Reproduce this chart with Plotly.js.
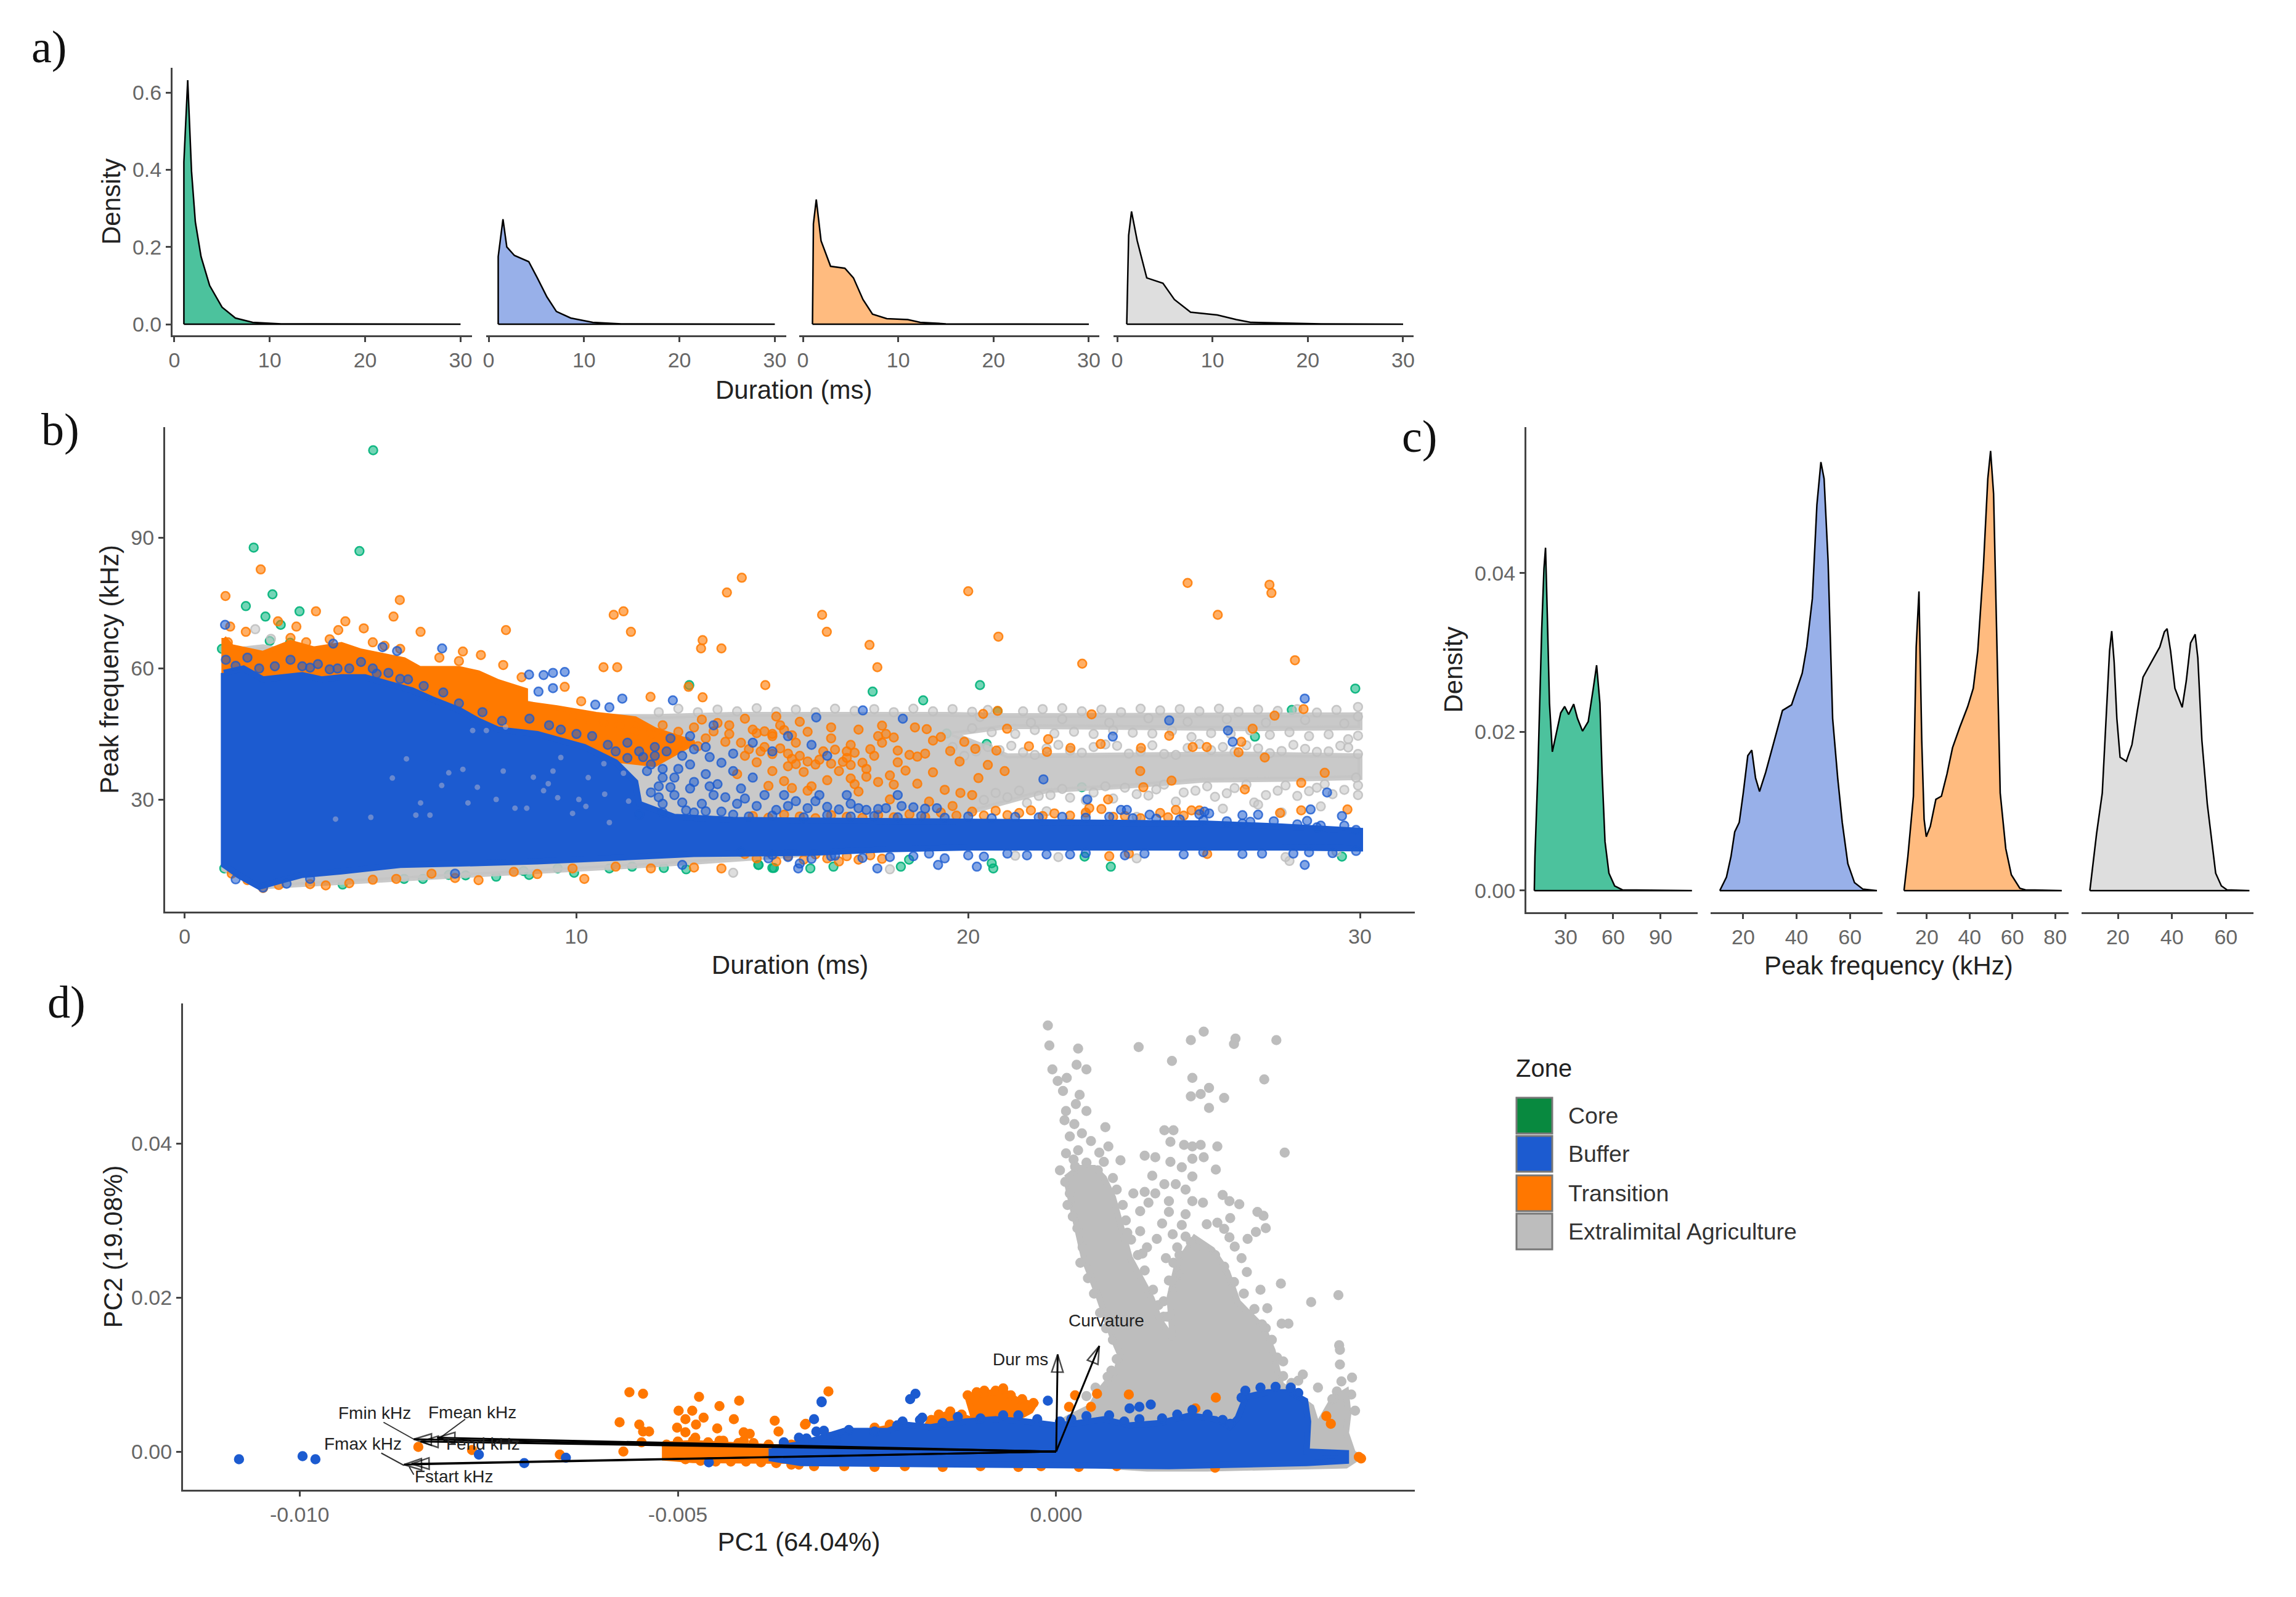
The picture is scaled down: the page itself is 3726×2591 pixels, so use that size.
<!DOCTYPE html>
<html><head><meta charset="utf-8">
<script src="https://cdn.plot.ly/plotly-3.0.1.min.js"></script>
<style>html,body{margin:0;padding:0;background:#fff}#chart{width:3726px;height:2591px}</style>
</head><body><div id="chart"></div>
<script>
const zones=["Core","Buffer","Transition","Extralimital Agriculture"];
const swatchColors=["#08893f","#1c5bd0","#ff7700","#bdbdbd"];
const densityFill=["rgba(0,168,115,0.7)","rgba(40,90,210,0.48)","rgba(255,119,0,0.5)","rgba(190,190,190,0.5)"];

// a) duration density (ms, density)
const durCoreX=[1,1,1.4,1.8,2.2,2.8,3.7,5,6.4,8.2,11.2,30];
const durCoreY=[0,.42,.632,.396,.265,.175,.1,.044,.016,.005,.001,0];
const durBufferX=[1,1,1.5,1.9,2.7,4.2,5.1,6.1,7.1,8.6,10.9,13.9,30];
const durBufferY=[0,.175,.272,.2,.178,.162,.12,.071,.033,.016,.005,.001,0];
const durTransX=[1,1.1,1.4,1.9,2.9,4.4,5.3,6.3,7.3,8.8,11,12.3,15,30];
const durTransY=[0,.26,.323,.216,.15,.145,.12,.064,.026,.0145,.012,.005,.001,0];
const durAgriX=[1,1.2,1.5,2.1,3.1,4.8,6,7.7,10.5,12.5,14,21.4,30];
const durAgriY=[0,.23,.292,.216,.12,.106,.064,.031,.024,.012,.005,.001,0];

// c) peak frequency density (kHz, density)
const pfCoreX=[10.1,10.5,12.3,14.8,16.2,17.2,18.3,19.7,21.5,24,26.8,29.3,31.8,35,37.4,40.6,44.2,47.4,49.5,51.6,53,54.8,57.3,60.9,65.8,109.8];
const pfCoreY=[0,.0043,.0147,.033,.0406,.0432,.0349,.0236,.0175,.0199,.0224,.0232,.0222,.0235,.0217,.0201,.0213,.0255,.0284,.0236,.0147,.0062,.0022,.0006,.0001,0];
const pfBufferX=[11.2,13.7,15.4,16.8,18.5,20,21.7,23.2,24.6,26.1,28.4,31.2,34.7,38.1,40.2,42.1,43.8,45.9,47.6,49.1,50.3,51.8,53.5,55.4,57.1,59.2,61.7,64.8,70.1];
const pfBufferY=[0,.0017,.0043,.0074,.0086,.0123,.017,.0177,.0142,.0125,.0149,.0184,.0227,.0234,.0255,.0274,.0307,.0368,.0486,.054,.0519,.0415,.0217,.0142,.0086,.0034,.001,.0002,0];
const pfTransX=[9.3,11.1,13.7,15,16.3,17.6,18.7,19.7,21.6,24.2,26.8,29.4,32,35.4,39.1,41.7,43.8,46.4,48.5,49.8,51.2,52.5,54.3,56.9,59.5,63.5,66.1,83.1];
const pfTransY=[0,.0043,.0119,.0307,.0377,.0189,.009,.0068,.0081,.0115,.0119,.0147,.018,.0206,.0232,.0255,.0302,.0406,.0519,.0554,.05,.0349,.0123,.0053,.002,.0003,.0001,0];
const pfAgriX=[9.6,12.1,14.2,15.9,16.9,17.7,18.6,19.6,20.8,23.1,25.2,27.2,29.3,32.4,35.5,37.2,38.2,39.5,41.1,43.8,45.3,46.9,48.6,49.6,51.1,53.1,56.2,58.3,60.4,68.7];
const pfAgriY=[0,.0072,.0123,.0236,.0302,.0327,.0288,.0217,.0168,.0163,.0184,.0227,.0269,.0288,.0307,.0326,.033,.0302,.0255,.0231,.0264,.0312,.0323,.0293,.0189,.0109,.0022,.0006,.0001,0];

// b) dense clouds read as outlines (duration, kHz)
const bGrayMass=[[1,64],[2,65],[5,60],[8,54],[10,49],[12,49],[14,49.5],[17,49.5],[19.5,49.5],[21,49.2],[25,49.3],[28,49.2],[30,49.4],[30,46.4],[27,46.2],[24,46.5],[21,46.7],[19.6,45],[21,40],[24,40.2],[27,40.4],[30,40],[30,35],[28,34.6],[26,34.4],[24,33],[22,32],[20,27],[20,20],[12,15],[4,11],[2,10],[1,14]];
const bOrangeMass=[[1,67],[1.2,65],[2,63.5],[2.7,66],[3.3,64.5],[4,65.5],[4.5,64],[5,63],[5.6,62],[6,60],[7,60],[7.5,59],[8,57],[8.7,55],[8.7,52],[9.5,51],[10.5,49.5],[11.5,48.5],[12,46],[12.5,44.5],[13,43],[12,38],[10,40],[8,44],[6,52],[4,55],[1,57]];
const bBlueMass=[[1,59],[1.5,60],[2,57.5],[2.5,58],[3,58.5],[3.5,57.5],[4,58],[4.6,58],[5.2,56.5],[5.8,55],[6.3,53],[7,50.5],[7.5,48],[8,46],[9,45],[9.6,43.5],[10.2,42],[11,38.5],[11.5,34],[11.6,29],[12.5,26],[14,25.3],[18,25],[22,25],[26,24.5],[28,23.8],[30,22.8],[30,18.8],[28,19],[24,19],[20,19],[18,18.6],[16,17.8],[13,17.5],[12,17],[10,16],[9,15.8],[7,15.3],[5.5,15],[4,13.5],[3,12.7],[2.5,11.5],[1.9,10],[1.4,12.5],[1,15]];

// b) individually visible points (duration, kHz)
const bCorePts=[[4.81,110],[1.76,87.7],[4.46,86.9],[2.24,77],[1.56,74.3],[2.06,71.9],[2.93,73.1],[2.45,70],[2.17,66.3],[2.69,65.9],[12.88,56.2],[17.56,54.7],[18.85,52.7],[20.3,56.2],[19.45,45.1],[29.88,55.4],[27.32,44.4],[20.75,50.2],[28.26,50.5],[22.9,32.8],[20.47,42.7],[23.64,14.6],[20.64,14.2],[20.6,15.4],[29.54,16.9],[22.97,16.9],[18.49,16.2],[18.28,14.6],[16.56,14.6],[15.97,14.2],[15.04,14.3],[14.65,15],[6.08,11.8],[6.74,12.7],[7.95,12.3],[8.65,13.6],[8.79,12.7],[9.52,14.2],[9.94,13.2],[10.84,14.2],[11.42,14.6],[12.23,14.3],[12.8,14],[14.64,15],[15,14.3],[5.6,11.8],[7.17,12.6],[4.03,10.5],[0.95,64.5],[1.01,14.2]];
const bGrayPts=[[12.1,50],[12.6,50.8],[13.1,50],[13.6,50.6],[14.1,50.2],[14.6,50.9],[15.1,50.1],[15.6,50.6],[16.1,50],[16.6,50.8],[17.1,50.3],[17.6,50.7],[18.1,50],[18.6,50.8],[19.1,50.2],[19.6,50.7],[20.1,50.1],[20.5,50.5],[21.4,50.2],[21.9,50.7],[22.4,50.9],[22.9,50.2],[23.4,50.6],[23.9,50],[24.4,50.8],[24.9,50.4],[25.4,50.7],[25.9,50.2],[26.4,50.8],[26.9,50.1],[27.4,50.6],[27.9,50.3],[28.4,50.7],[28.9,49.9],[29.4,50.5],[29.95,51.2],
[20.1,46.3],[20.6,45.4],[21.2,45],[21.7,45.9],[22.2,45.1],[22.7,45.5],[23.2,45],[23.7,45.8],[24.2,45.3],[24.7,45.1],[25.2,45.7],[25.7,44.3],[26.2,45.2],[26.7,45],[27.2,45.8],[27.7,44.8],[28.2,45.4],[28.7,44.5],[29.2,44.9],[29.7,43.8],[29.95,44.6],
[19.6,42],[20.2,41],[20.8,41.3],[21.4,40.8],[22,41.7],[22.6,41.2],[23.2,42],[23.8,42.3],[24.4,41],[25,40.4],[25.6,41.8],[26.2,41.3],[26.8,40.9],[27.4,41.7],[28,41.1],[28.6,41.6],[29.2,41],[29.7,41.9],[29.95,40.4],
[20.4,29.9],[21,30.5],[21.5,29.2],[22.1,31],[22.6,30.4],[23.2,31.6],[23.7,30.2],[24.3,31.2],[24.8,32.3],[25.3,29.5],[25.8,32],[26.3,30.6],[26.8,32.6],[27.3,29.3],[27.9,32],[28.4,30.8],[28.9,32.7],[29.3,31.2],[29.95,33.2],[29.95,31],
[22,27.3],[23,26.6],[24.3,26],[26.5,27.9],[27.4,28.8],[28,27],[29,28.4],[21.2,17.1],[22.3,16.8],[24.3,16.5],[28.2,15.9],[28.1,16.8],[29.4,18],[18,14],[14,13.2],[1.8,69],[2.2,66.8],
[19.9,40],[20.5,42],[21.1,42.3],[21.7,40.2],[22.3,42.5],[22.9,40.7],[23.5,42.6],[24.1,40.5],[24.7,42.4],[25.3,40.2],[25.9,42.7],[26.5,42],[27.1,42.4],[27.7,40.6],[28.3,42.5],[28.9,40.9],[29.5,42.3],
[20.7,31.5],[21.3,32],[21.8,30.8],[22.4,32.4],[23,29.8],[23.5,33],[24,32.7],[24.6,30.9],[25,33.4],[25.5,31.6],[26.1,33],[26.6,31.4],[27.1,33.4],[27.6,31],[28.1,33.2],[28.7,31.9],[29.1,33.5],[29.6,32.2],[29.9,35],
[20.3,48.9],[21.6,47.6],[22.4,48.4],[23.6,47.6],[24.6,48.6],[25.6,47.8],[26.6,48.4],[27.6,47.6],[28.6,48.2],[29.6,47.4],[29.95,49]];
const bGraySpecks=[[5.3,34.9],[5.66,39.3],[6.02,29.2],[6.26,26.4],[4.75,25.9],[6.56,33.2],[7.23,29.2],[8.13,36.5],[7.95,30],[8.43,28],[8.73,28],[9.16,32],[9.28,33.6],[9.52,30.4],[10.06,30],[10.24,28.4],[10.72,31.2],[11.2,36],[11.33,29.6],[10.84,24.7],[3.85,25.5],[7.1,36.9],[7.47,32.8],[6.74,36.1],[5.9,26.4],[7.7,45.8],[8.19,46.6],[7.35,45.8],[9.4,36.5],[10.3,35],[10.7,38.2],[9.9,26.8],[8.9,35.1],[9.6,39.6]];
const bOrangePts=[[1.04,76.6],[1.94,82.7],[1.16,69.6],[1.56,68.4],[2.38,70.8],[2.85,69.6],[3.35,73.1],[4.1,70.8],[3.92,68.8],[4.57,69.2],[5.49,75.7],[5.33,71.9],[6.02,68.4],[8.2,68.8],[7.1,63.9],[7.56,63.1],[8.13,60.8],[10.69,60.3],[11.04,60.3],[10.95,72.3],[11.2,73.1],[11.39,68.4],[13.22,66.5],[13.18,64.6],[13.7,64.6],[13.84,77.4],[14.22,80.8],[14.82,56.2],[13.22,53.4],[12.86,55.8],[11.89,53.5],[10.12,52.5],[9.7,55.8],[16.27,72.3],[16.39,68.4],[17.48,65.4],[17.68,60.3],[20,77.7],[20.77,67.3],[22.91,61.1],[25.6,79.6],[26.37,72.3],[27.69,79.2],[27.74,77.3],[28.34,61.9],
[2.7,67],[3.1,66],[3.7,66.7],[4.8,66],[5.1,65.2],[5.5,64.5],[6.5,62.5],[7,61.7],[1.1,66],[8.6,58],
[12.2,47],[12.6,45.5],[13,46.5],[13.3,44],[13.6,47.5],[13.9,45],[14.2,43],[14.5,46],[14.8,42],[15,44.5],[15.2,47],[15.4,40.5],[15.6,43],[15.9,45.5],[16.1,38],[16.3,41],[16.5,44],[16.7,36.5],[16.9,39.5],[17,42.5],[17.2,46],[17.4,37],[17.6,40],[17.8,43],[18,35.5],[18.2,38.5],[15,36.5],[15.3,34.2],[14.6,38.5],[14.3,40],[14.1,35.8],[15.8,36.3],[16.4,34.4],[16,33],[17.1,33.5],[18.4,36.6],[18.7,33.6],[15.7,47.8],[16.5,46.5],[17.8,46.9],[14.3,48.5],[15.1,49],
[22.04,43.8],[23.38,42.7],[24.41,41.8],[24.39,36.5],[25.13,44.6],[25.73,42],[26.09,42],[26.9,40.8],[26.97,43.2],[27.57,39.6],[27.26,46.2],[27.82,49.2],[28.56,50.7],[29.1,36.1],[28.5,33.8],[27.06,32.3],[27.96,26.9],[29.68,27.7],[25.19,34.3],[24.47,32.8],[23.57,30],[23.09,28],[20.93,36.5],[20.26,34.9],[20.5,37.9],[19.78,38.7],[19.54,41.1],[19.9,43.2],[20.18,41.6],[20.72,41.2],[18.64,46.5],[18.94,46.1],[20.99,46.2],[20.75,50.3],[20.38,49.6],[23.15,49.5],[21.55,42.2],[22.01,40.9],[22.61,41.8],
[14.5,26.2],[14.9,25.8],[15.3,26.5],[15.7,26.1],[16.1,25.7],[16.5,26.4],[16.9,26],[17.3,25.8],[17.7,26.4],[18.1,25.9],[18.5,26.6],[18.9,26],[19.3,27],[19.7,26.3],[20.1,27.2],[20.4,26.3],[20.7,27.4],[21,26.4],[21.3,26.9],[21.6,27.5],[21.9,26.2],[22.2,26.8],[22.6,26.3],[23,27],[23.4,27.8],[23.7,26],[24,26.2],[24.4,25.7],[24.9,26.9],[25.1,25.9],[25.3,27.6],[25.5,26.3],[25.7,27.5],[25.9,27.5],
[14.3,17.5],[14.6,16.5],[14.9,17.9],[15.1,15.8],[15.4,17],[15.8,16.2],[16.1,17.4],[16.4,16.5],[16.7,15.8],[16.9,17],[17.2,16.2],[17.5,17.2],[17.8,16.4],[23.6,17],[24.1,17.6],[26.1,17.5],[28.5,27.5],
[1.2,13],[1.6,11.5],[2,9.7],[2.4,10.4],[3.2,10.6],[3.6,10.3],[4.2,10.8],[4.8,11.6],[5.4,11.8],[6.3,13],[6.9,12],[7.5,11.5],[8.4,13.4],[9,12.9],[9.9,14.2],[10.2,11.8],[11,14.6],[11.9,14.2],[13,14.4],[13.7,14.2],
[14.6,45.2],[14.8,45.6],[15,45],[15.3,45.9],[15.5,44.7],[14.4,41.5],[14.7,41],[15,40.4],[15.2,41.7],[15.5,39.3],[15.7,40],[15.9,38.7],[16.2,39.1],[16.5,38.2],[16.8,38.6],[17,37.9],[17.3,38.4],[15.4,37.6],[15.6,38.1],[16.6,41.4],[16.9,41],[17.1,40.7],[17.5,41.5],[17.7,44.5],[17.9,45],[18.1,44.2],[18.2,41.2],[18.5,40.2],[18.7,39.8],[18.9,40.5],[19.1,43.5],[19.3,44.3],[13.2,48.3],[13.5,45.6],[13.8,43.2],[13.9,47],[12.4,43.8],[12.8,43.2],[13.1,42.2],[11.1,47],[11.5,45.7],[11.9,45],[10.7,47.8],[10.3,48.5],[9.9,49],[17,34.8],[17.4,35.2],[17.7,34],[18.1,33.4],[15.5,32.6],[15.9,32],[14.9,33.1],[19.1,36.2],[19.4,32.2],[19.8,31.5],[20.1,31],[19,29.5],[19.6,28.5],[18,30],[17.2,31.8]];
const bBluePts=[[1.03,70],[6.57,64.6],[9.7,59.2],[9.4,59],[9.16,58.5],[8.79,58.6],[9.03,54.7],[9.4,55.5],[11.17,53.1],[10.84,51.1],[10.48,51.7],[12.46,52.7],[5.05,64.9],[5.42,64],[3.79,65.7],[17.31,50.4],[16.12,48.8],[18.33,48.5],[28.59,53.1],[25.13,48.1],[26.63,45.8],[26.75,43.2],[23.69,44.4],[21.92,34.6],[23.04,30],[24.63,26.5],[27.4,26.5],[27,26.4],[26.03,27.2],[25.9,26.6],[26.15,26.8],[28.74,27.7],[28.65,25.1],[29.54,26.2],[28.59,15],[19.23,15],[20.22,14.6],[17.68,14.2],[15.66,14.2],[24.05,27.6],[23.9,27.6],[29.16,31.6],
[1.05,62],[1.6,62.5],[2.7,62],[3,60.5],[3.4,61],[3.9,60],[4.5,61.5],[4.8,60],[5.2,59],[5.7,57.5],[6.1,56],[6.6,54.5],[7,52],[7.6,50],[8.1,48],[8.8,48.5],[9.3,47],[9.6,46],[10,45],[10.4,44.5],[10.8,42.5],[11.3,43],[11.6,41],[12,42],[12.4,44],[12.9,44.5],[13.3,42],[13.5,47],[14,40.5],[14.5,43],[15,41],[15.4,44.5],[16,42.5],[16.4,40],[11.9,38],[12.2,37],[12.5,35],[12.9,38],[13.3,35.8],[13.6,33.5],[14,36.5],[14.2,32.5],[14.5,35],[14.8,31],[12.1,33],[12.5,31],[12.9,32.5],[13.2,29],[13.5,31],[12.2,29],[12.8,27.5],[14.1,29],[14.6,28.5],
[15.3,31],[15.4,28.5],[15.6,29.6],[15.9,28],[16.1,29.6],[16.2,31],[16.4,28.3],[16.7,27.7],[16.9,31],[17,29],[17.2,28],[17.4,27.6],[17.7,27.8],[17.9,28],[18.2,31],[18.3,28.5],[18.6,28.2],[18.9,27.9],[19.2,28],[14.3,30.2],[15.1,27.6],
[11.6,26.5],[12.2,27],[13.7,27.2],[14,26.5],[14.9,16.5],[15.4,16.8],[16,16.4],[16.6,17.1],[17.3,16.6],[18,16.8],[18.6,17],[19.4,16.5],[20.4,16.9],[21.5,17.2],[22.6,17.4],[24,17.2],[25.5,17.4],[27,17.5],[28.3,17.6],[29.3,17.7],[29.9,18.2],[29.9,23],[28.9,23.6],[27,24.5],[1.3,11.7],[2,9.8],[2.6,10.7],[3.2,11.8],[6.9,13],[12.7,15],[15.7,15.3],
[11,41],[11.3,39.5],[11.7,39.7],[12,40],[12.3,41],[12.7,40],[13,41.5],[13.4,39.7],[13.7,38.4],[12.2,35],[12.6,37],[13,34],[13.4,33],[13.8,30.5],[12.1,30.5],[12.4,32.8],[12.7,29.3],[13,27],[11.8,36.5],[11.9,31.6],[13.3,27.3],[14.4,26.1],[15,26.3],[15.8,25.9],[16.4,26.4],[17,26.1],[17.6,26.2],[18.2,25.9],[18.8,26.2],[19.4,25.8],[20,26.1],[20.6,25.7],[21.2,26],[21.8,25.9],[22.4,26],[23,25.8],[23.6,26],[24.2,25.7],[24.8,25.6],[25.4,25.4],[26,25.2],[26.6,25],[27.2,24.9],[27.8,25],[28.4,24.3],[29,24],[29.6,24],[14.2,18],[15,17.3],[16.5,17],[19,17.6],[20,17.2],[21,17.6],[22,17.4],[23,17.7],[24.5,17.6],[26,17.9],[27.5,17.6],[28.7,17.9],[1.3,60.6],[1.9,60],[2.3,60.5],[3.2,60.2],[3.7,59.8],[4.2,60],[4.9,58.8],[5.5,57.6]];

// d) dense clouds read as outlines (PC1, PC2)
const dGrayMass=[[.00013,.0355],[.0003,.0368],[.0005,.0368],[.00063,.0355],[.00075,.033],[.00085,.0295],[.00097,.0252],[.00126,.0199],[.00137,.017],[.00154,.0146],[.0015,.02],[.0016,.0243],[.00183,.0277],[.00206,.0262],[.00226,.0233],[.0024,.0194],[.00274,.016],[.00286,.0131],[.00297,.0087],[.00309,.0078],[.00337,.0058],[.00343,.0039],[.00337,.0025],[.00349,.0039],[.00366,.0068],[.00383,.0078],[.00386,.0049],[.00383,.0024],[.00392,-.0002],[.004,-.0007],[.00383,-.0018],[.002,-.0022],[.0012,-.0022],[.00057,-.0018],[0,.0034],[.00017,.0044],[.00046,.0058],[.00057,.0078],[.0008,.0105],[.00085,.0125],[.00074,.015],[.00057,.0199],[.00037,.025],[.00023,.0311]];
const dOrangeMass1=[[-.00517,.0009],[-.0048,.0011],[-.0044,.0009],[-.0040,.0007],[-.0036,.0005],[-.0036,-.0012],[-.0042,-.0012],[-.0048,-.0011],[-.00517,-.0008]];
const dOrangeMass2=[[-.00117,.0071],[-.00091,.0076],[-.00069,.0078],[-.00051,.0066],[-.00029,.0061],[-.00034,.0053],[-.00051,.0044],[-.00109,.0044]];
const dOrangeMass3=[[-.00177,.0024],[-.00166,.0041],[-.00146,.0048],[-.00120,.0044],[-.00097,.0036],[-.00109,.0029],[-.00166,.0022]];
const dOrangeMass4=[[-.00260,.0014],[-.00240,.0027],[-.00217,.0032],[-.00214,.0024],[-.00250,.0010]];
const dBlueMass=[[-.00376,.0004],[-.00337,.00097],[-.0028,.00267],[-.00223,.00267],[-.002,.0035],[-.00166,.00316],[-.0012,.0039],[-.0008,.0042],[-.0004,.0039],[0,.0034],[.00029,.0037],[.00063,.0042],[.00097,.0034],[.00137,.0037],[.00177,.0047],[.00211,.0042],[.00229,.0032],[.0024,.0044],[.00251,.0071],[.0028,.0077],[.00309,.0077],[.00329,.0066],[.00333,.0039],[.00331,0],[.00383,-.0002],[.00383,-.0012],[.00331,-.0015],[.00149,-.0019],[-.00109,-.0017],[-.00337,-.0015],[-.00376,-.0009]];

// d) individually visible points (PC1, PC2)
const dGrayPts=[[-.00011,.0553],[-.00009,.0527],[.00029,.0523],[-.00005,.0496],[.00027,.0502],[.0004,.0496],[.00002,.0481],[.00014,.0485],[.00009,.0468],[.00031,.0463],[.00026,.0451],[.0004,.0442],[.00013,.0442],[.00011,.043],[.00024,.0425],[.00065,.0421],[.00018,.0409],[.00034,.0413],[.00046,.0403],[.00069,.0396],[.00013,.0387],[.00029,.0391],[.00057,.0388],[.00063,.0376],[.00023,.0379],[.00085,.0378],[.00109,.0525],[.00178,.0534],[.00195,.0545],[.00237,.0536],[.00235,.0529],[.00291,.0534],[.00153,.0507],[.0018,.0485],[.00275,.0483],[.00202,.0472],[.00191,.0464],[.00178,.0461],[.00222,.0459],[.00202,.0446],[.00143,.0417],[.00155,.0417],[.00151,.0402],[.00169,.0398],[.0018,.0396],[.00191,.0398],[.00213,.0396],[.00302,.0388],[.00117,.0384],[.00131,.0382],[.00151,.0376],[.0018,.038],[.00195,.0382],[.00166,.0369],[.00211,.0366],[.00127,.0358],[.00143,.0347],[.00158,.0347],[.0018,.0357],[.00171,.034],[.00102,.0335],[.00117,.0337],[.00131,.0335],[.00122,.0323],[.00149,.0325],[.0022,.0333],[.00229,.0325],[.00242,.0321],[.0018,.0325],[.00194,.0323],[.00111,.0312],[.00149,.0311],[.00171,.0308],[.00266,.0311],[.00274,.0306],[.0023,.0303],[.00213,.0297],[.00199,.0295],[.00166,.0294],[.0014,.0296],[.00277,.029],[.00264,.0285],[.00222,.0289],[.00253,.0276],[.00229,.0278],[.00111,.0286],[.00094,.0284],[.00133,.0276],[.00154,.0282],[.00171,.0279],[.00236,.0266],[.0012,.0265],[.00114,.0257],[.00145,.0251],[.00163,.0255],[.00245,.0251],[.00252,.0233],[.00149,.0222],[.00297,.0218],[.0027,.021],[.00373,.0203],[.00337,.0194],[.00279,.0186],[.00298,.0166],[.00307,.0166],[.00277,.016],[.00374,.0138],[.00375,.0132],[.00375,.0113],[.003,.0117],[.00377,.0091],[.00391,.0096],[.00326,.01],[.0032,.0092],[.00311,.0089],[.00346,.0083],[.00371,.0078],[.0039,.0074],[.00395,.0053],[.00365,.0068],
[.00005,.0365],[.00012,.035],[.00018,.0335],[.00015,.032],[.00022,.0305],[.00028,.029],[.00035,.0265],[.00032,.0245],[.00075,.0355],[.0008,.034],[.00088,.032],[.00092,.03],[.00099,.0275],[.00108,.0255],[.00117,.0235],[.00128,.021],[.00135,.019],[.00142,.0175],[.00042,.0225],[.0005,.0205],[.00058,.018],[.00066,.016],[.00075,.0145],[.0008,.012],[.00073,.0105],[.00068,.0097],[.00052,.0083],[.0004,.0072],[.00025,.037],[.0004,.0375],[.00055,.0365],
[.00155,.0245],[.0016,.0265],[.00178,.0272],[.00195,.0265],[.0021,.0255],[.00222,.024],[.00235,.022],[.00248,.0205],[.00262,.0185],[.00272,.0165],[.00285,.0145],[.00292,.0122],[.003,.0098],[.0031,.0085],[.00147,.0175],[.00142,.0195],[.00155,.021],[.00162,.023]];
const dOrangePts=[[-.00564,.0077],[-.00546,.0075],[-.00472,.0071],[-.00445,.0059],[-.00419,.0066],[-.00499,.0053],[-.00481,.0053],[-.0049,.0042],[-.00466,.0044],[-.00426,.0042],[-.00372,.004],[-.00332,.0035],[-.00301,.0078],[-.00577,.0038],[-.00551,.0035],[-.00546,.0026],[-.00538,.0026],[-.00476,.0035],[-.00501,.0031],[-.0049,.0025],[-.00448,.003],[-.00367,.0026],[-.00413,.0025],[-.00405,.0023],[-.00477,.0018],[-.00548,.0012],[-.00572,0],[-.00656,-.0004],[-.00843,.0006],[-.00772,.0002],[-.00445,.0014],[-.0044,.0014],[-.00413,.0014],[-.00331,.0036],[.00025,.0073],[.00054,.0075],[.00096,.0074],[.00211,.007],[.00017,.0058],[.00046,.0058],[.00184,.0056],[.00357,.0046],[.00363,.0036],[.004,-.0007],[.00403,-.0009],
[-.0035,-.0017],[-.0032,-.0019],[-.0028,-.0019],[-.0024,-.002],[-.002,-.0019],[-.0015,-.002],[-.001,-.0019],[-.0005,-.002],[-.0002,-.0019],[.0003,-.002],[.0008,-.0019],[.0021,-.0021],[-.0024,.0017],[-.0034,.0012],[-.0030,.0019],[-.0028,.0024],[-.0027,.0016],
[-.00515,.0009],[-.0051,-.0004],[-.005,.0013],[-.0049,-.001],[-.0048,.0014],[-.0047,-.0012],[-.0046,.0012],[-.0045,-.0013],[-.0044,.0012],[-.0043,-.0013],[-.0042,.0011],[-.0041,-.0013],[-.004,.0011],[-.0039,-.0014],[-.0038,.0009],[-.0037,-.0015],[-.0036,.001],[-.0035,.0009],[-.0034,-.0017],[-.00335,.0014],
[-.00117,.0073],[-.00105,.0077],[-.00095,.0079],[-.0008,.0079],[-.0007,.0082],[-.0006,.0073],[-.00045,.0068],[-.0003,.0063],[-.00165,.0041],[-.00155,.0048],[-.0014,.0052],[-.00125,.0048],[-.0011,.004],[-.0026,.002],[-.0024,.0031],[-.0022,.0035],[-.0019,.0028]];
const dBluePts=[[-.0108,-.001],[-.00996,-.0006],[-.00979,-.001],[-.00763,-.0004],[-.00703,-.0015],[-.00648,-.0008],[-.00459,-.0014],[-.0031,.0064],[-.0032,.0042],[-.00317,.0026],[-.00307,.0027],[-.00274,.0028],[-.00186,.0075],[-.00193,.0068],[-.0031,.0065],[-.00011,.0066],[.0011,.0058],[.00125,.0061],[.00097,.0056],[.00245,.007],[-.00203,.0039],[-.00177,.0044],[-.0033,.0017],[-.0029,.0016],[-.0036,.0012],[-.0034,.0018],
[-.0024,.0026],[-.0021,.0034],[-.0018,.0041],[-.0015,.0037],[-.0013,.0045],[-.001,.0043],[-.0007,.0047],[-.0005,.0047],[-.00025,.0042],[.00005,.0039],[.0002,.0042],[.0004,.0046],[.0007,.0047],[.0009,.0039],[.0011,.0042],[.0014,.0043],[.0016,.0048],[.0018,.0054],[.002,.0048],[.0022,.0041],[.0023,.0036],[.0025,.0079],[.0027,.0083],[.0029,.0084],[.0031,.0083],[.0032,.0076]];

// d) loadings and labels
const loadingX=[-.00849,-.00818,-.0084,-.00862,-.00852,.00002,.00057];
const loadingY=[.0016,.0018,.0013,-.0017,-.0016,.0126,.0137];
const labelText=["Fmin kHz","Fmean kHz","Fend kHz","Fmax kHz","Fstart kHz","Dur ms","Curvature"];
const labelX=[-.00901,-.00772,-.00757,-.00916,-.00796,-.00047,.00066];
const labelY=[.005,.0051,.001,.001,-.0032,.012,.017];
const leaderX=[-.00889,-.00849,null,-.00781,-.00814,null,-.00892,-.00862,null,-.00849,-.00855,null,-.00808,-.00814];
const leaderY=[.0038,.0016,null,.0042,.0018,null,-.0002,-.0018,null,-.003,-.002,null,.0014,.0018];

// ticks
const durTicks=[0,10,20,30];
const densATicks=[0,.2,.4,.6], densATickText=["0.0","0.2","0.4","0.6"];
const peakTicks=[30,60,90];
const densCTicks=[0,.02,.04], densCTickText=["0.00","0.02","0.04"];
const pcXTicks=[-.01,-.005,0], pcXTickText=["-0.010","-0.005","0.000"];
const pcYTicks=[0,.02,.04], pcYTickText=["0.00","0.02","0.04"];

const W=3726,H=2591,FONT="Liberation Sans, Arial, sans-serif";
const dx=(a,b)=>[a/W,b/W], dy=(t,b)=>[1-b/H,1-t/H];
const LINE="#444444", TICK="#666666";
function ax(o){return Object.assign({showgrid:false,zeroline:false,showline:true,linecolor:LINE,linewidth:3,ticks:"outside",ticklen:8,tickwidth:3,tickcolor:LINE,tickfont:{family:FONT,size:34,color:TICK},tickmode:"array",automargin:false,fixedrange:true},o);}
const unz=p=>[p.map(q=>q[0]),p.map(q=>q[1])];
function density(xs,ys,c,xa,ya){return {x:xs.concat([xs[0]]),y:ys.concat([0]),xaxis:xa,yaxis:ya,type:"scatter",mode:"lines",fill:"toself",fillcolor:c,line:{color:"#000",width:2.5},hoverinfo:"skip",showlegend:false};}
function mass(p,c,xa,ya,w){const u=unz(p);return {x:u[0].concat([u[0][0]]),y:u[1].concat([u[1][0]]),xaxis:xa,yaxis:ya,type:"scatter",mode:"lines",fill:"toself",fillcolor:c,line:{color:c,width:w},hoverinfo:"skip",showlegend:false};}
function pts(p,fill,ring,xa,ya,s){const u=unz(p);return {x:u[0],y:u[1],xaxis:xa,yaxis:ya,type:"scatter",mode:"markers",marker:{size:s,color:fill,line:{color:ring,width:2.5}},hoverinfo:"skip",showlegend:false};}

const data=[
 density(durCoreX,durCoreY,densityFill[0],"x","y"),
 density(durBufferX,durBufferY,densityFill[1],"x2","y"),
 density(durTransX,durTransY,densityFill[2],"x3","y"),
 density(durAgriX,durAgriY,densityFill[3],"x4","y"),
 pts(bCorePts,"rgba(0,178,122,.55)","rgba(0,178,122,.9)","x5","y2",14),
 mass(bGrayMass,"rgba(196,196,196,.92)","x5","y2",8),
 pts(bGrayPts,"rgba(200,200,200,.6)","rgba(190,190,190,.85)","x5","y2",14),
 mass(bOrangeMass,"#ff7a00","x5","y2",8),
 pts(bOrangePts,"rgba(255,122,0,.6)","rgba(255,122,0,.85)","x5","y2",14),
 mass(bBlueMass,"#1c5bd0","x5","y2",10),
 pts(bBluePts,"rgba(28,91,208,.55)","rgba(28,91,208,.8)","x5","y2",14),
 pts(bGraySpecks,"rgba(170,175,205,.55)","rgba(170,175,205,0)","x5","y2",9),
 density(pfCoreX,pfCoreY,densityFill[0],"x6","y3"),
 density(pfBufferX,pfBufferY,densityFill[1],"x7","y3"),
 density(pfTransX,pfTransY,densityFill[2],"x8","y3"),
 density(pfAgriX,pfAgriY,densityFill[3],"x9","y3"),
 mass(dGrayMass,"#bdbdbd","x10","y4",10),
 pts(dGrayPts,"#bdbdbd","#bdbdbd","x10","y4",14),
 mass(dOrangeMass1,"#ff7700","x10","y4",10),
 mass(dOrangeMass2,"#ff7700","x10","y4",10),
 mass(dOrangeMass3,"#ff7700","x10","y4",10),
 mass(dOrangeMass4,"#ff7700","x10","y4",10),
 pts(dOrangePts,"#ff7700","#ff7700","x10","y4",14),
 mass(dBlueMass,"#1c5bd0","x10","y4",10),
 pts(dBluePts,"#1c5bd0","#1c5bd0","x10","y4",14),
 {x:leaderX,y:leaderY,xaxis:"x10",yaxis:"y4",type:"scatter",mode:"lines",line:{color:"#333",width:2},hoverinfo:"skip",showlegend:false,connectgaps:false}
];
loadingX.forEach((lx,i)=>data.push({x:[0,lx],y:[0,loadingY[i]],xaxis:"x10",yaxis:"y4",type:"scatter",mode:"lines+markers",line:{color:"#000",width:3},marker:{symbol:["circle","arrow-open"],size:[1,30],angleref:"previous",color:"#000",line:{color:"#000",width:2.5}},hoverinfo:"skip",showlegend:false}));

const titleFont={family:FONT,size:42,color:"#222"};
function ann(text,px,py,font,extra){return Object.assign({text,xref:"paper",yref:"paper",x:px/W,y:1-py/H,xanchor:"center",yanchor:"middle",showarrow:false,font},extra||{});}
const serif={family:"Liberation Serif, serif",size:74,color:"#111"};
const annotations=[
 ann("a)",80,76,serif),ann("b)",98,697,serif),ann("c)",2304,708,serif),ann("d)",108,1626,serif),
 ann("Duration (ms)",1288,632,titleFont),
 ann("Peak frequency (kHz)",3065,1566,titleFont),
 ann("Zone",2505,1733,{family:FONT,size:40,color:"#222"})
];
labelText.forEach((t,i)=>annotations.push({text:t,xref:"x10",yref:"y4",x:labelX[i],y:labelY[i],showarrow:false,xanchor:"center",yanchor:"middle",font:{family:FONT,size:28,color:"#222"}}));
const swatchY=[1810,1872,1936,1998];
const shapes=[];
zones.forEach((z,i)=>{
 shapes.push({type:"rect",xref:"paper",yref:"paper",x0:2461/W,x1:2519/W,y0:1-(swatchY[i]+29)/H,y1:1-(swatchY[i]-29)/H,fillcolor:swatchColors[i],line:{color:"#777",width:3}});
 annotations.push(Object.assign(ann(z,2543,swatchY[i],{family:FONT,size:37.5,color:"#333"}),{xanchor:"left"}));
});

const layout={width:W,height:H,margin:{l:0,r:0,t:0,b:0},paper_bgcolor:"#fff",plot_bgcolor:"rgba(0,0,0,0)",showlegend:false,shapes,annotations,
 xaxis:ax({domain:dx(280,766),range:[-.19,31.2],anchor:"y",tickvals:durTicks}),
 xaxis2:ax({domain:dx(789,1276),range:[-.26,31.2],anchor:"y",tickvals:durTicks}),
 xaxis3:ax({domain:dx(1297,1784),range:[-.39,31.1],anchor:"y",tickvals:durTicks}),
 xaxis4:ax({domain:dx(1807,2294),range:[-.39,31.1],anchor:"y",tickvals:durTicks}),
 yaxis:ax({domain:dy(110,544),range:[-.0287,.664],anchor:"x",tickvals:densATicks,ticktext:densATickText,title:{text:"Density",font:titleFont,standoff:7}}),
 xaxis5:ax({domain:dx(268,2296),range:[-.5,31.4],anchor:"y2",tickvals:durTicks,title:{text:"Duration (ms)",font:titleFont,standoff:14}}),
 yaxis2:ax({domain:dy(693,1479),range:[4.3,115.3],anchor:"x5",tickvals:peakTicks,title:{text:"Peak frequency (kHz)",font:titleFont,standoff:7}}),
 xaxis6:ax({domain:dx(2477,2755),range:[5.07,113.4],anchor:"y3",tickvals:[30,60,90]}),
 xaxis7:ax({domain:dx(2776,3055),range:[7.76,72.2],anchor:"y3",tickvals:[20,40,60]}),
 xaxis8:ax({domain:dx(3078,3357),range:[5.88,86.3],anchor:"y3",tickvals:[20,40,60,80]}),
 xaxis9:ax({domain:dx(3378,3657),range:[6.53,70.2],anchor:"y3",tickvals:[20,40,60]}),
 yaxis3:ax({domain:dy(693,1480),range:[-.00272,.0584],anchor:"x6",tickvals:densCTicks,ticktext:densCTickText,title:{text:"Density",font:titleFont,standoff:7}}),
 xaxis10:ax({domain:dx(297,2296),range:[-.01154,.00474],anchor:"y4",tickvals:pcXTicks,ticktext:pcXTickText,title:{text:"PC1 (64.04%)",font:titleFont,standoff:12}}),
 yaxis4:ax({domain:dy(1628,2417),range:[-.00496,.05816],anchor:"x10",tickvals:pcYTicks,ticktext:pcYTickText,title:{text:"PC2 (19.08%)",font:titleFont,standoff:2}})
};
Plotly.newPlot("chart",data,layout,{staticPlot:true,displayModeBar:false});
</script></body></html>
